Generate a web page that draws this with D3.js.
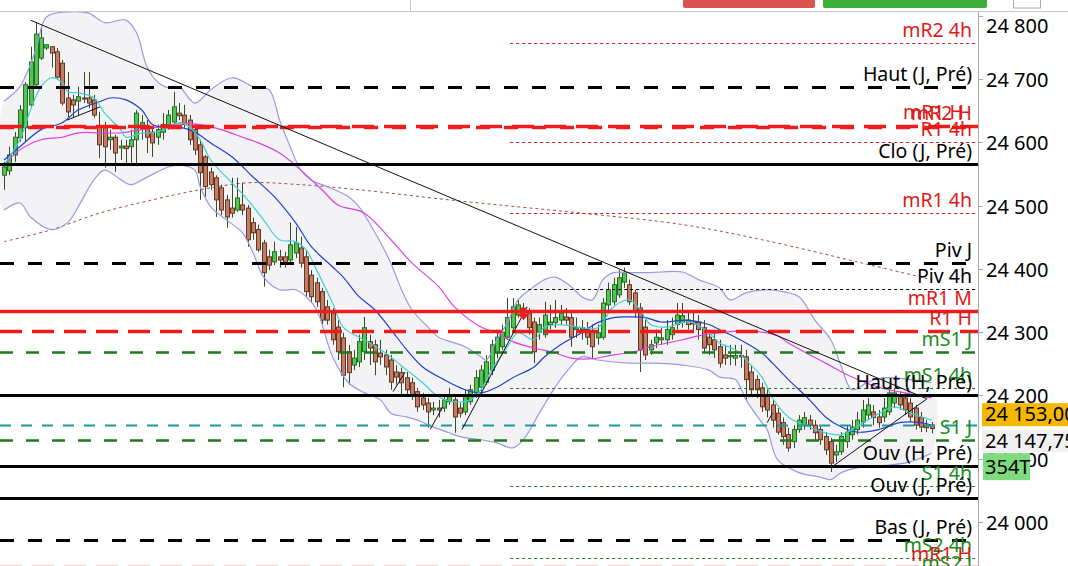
<!DOCTYPE html>
<html><head><meta charset="utf-8">
<script src="https://cdn.jsdelivr.net/npm/d3@7"></script>
<style>html,body{margin:0;padding:0;background:#fff;overflow:hidden}svg{display:block}</style>
</head><body><svg id="c" width="1068" height="566"></svg>
<script>
// ---------- DATA ----------
const openP = [24548,24555,24580,24607,24623,24659,24691,24733,24749,24751,
24743,24725,24670,24667,24665,24670,24670,24667,24624,24623,
24604,24608,24591,24594,24593,24604,24623,24623,24616,24608,
24616,24628,24632,24646,24643,24635,24620,24596,24577,24553,
24544,24528,24509,24496,24493,24501,24496,24473,24462,24441,
24419,24411,24419,24419,24414,24425,24433,24419,24390,24378,
24364,24340,24330,24308,24291,24269,24248,24253,24269,24285,
24280,24267,24264,24256,24237,24236,24228,24220,24206,24196,
24188,24177,24180,24180,24190,24193,24180,24174,24190,24204,
24213,24221,24240,24267,24277,24292,24307,24327,24338,24330,
24316,24300,24296,24312,24315,24319,24324,24323,24304,24307,
24304,24300,24291,24292,24343,24348,24359,24379,24375,24362,
24338,24308,24272,24283,24288,24288,24296,24312,24315,24319,
24316,24316,24307,24292,24288,24277,24264,24261,24259,24263,
24261,24237,24225,24212,24201,24185,24172,24157,24138,24127,
24146,24153,24161,24153,24146,24135,24127,24106,24111,24127,
24138,24146,24158,24169,24174,24166,24166,24174,24188,24198,
24196,24188,24180,24165,24153,24153];
const closeP = [24561,24580,24608,24651,24691,24727,24771,24765,24754,24741,
24703,24662,24648,24659,24672,24669,24662,24643,24596,24593,
24608,24583,24594,24590,24604,24646,24631,24608,24599,24620,
24628,24643,24656,24642,24628,24604,24588,24552,24530,24533,
24509,24493,24482,24488,24512,24493,24446,24457,24430,24394,
24406,24427,24414,24409,24438,24441,24409,24364,24356,24348,
24319,24319,24288,24269,24232,24236,24259,24285,24307,24275,
24253,24261,24245,24221,24229,24220,24209,24201,24182,24185,
24174,24180,24177,24193,24201,24166,24172,24198,24209,24228,
24240,24253,24280,24292,24300,24323,24340,24343,24324,24307,
24269,24312,24327,24316,24323,24330,24319,24292,24307,24304,
24292,24277,24299,24346,24367,24375,24386,24394,24348,24332,
24272,24264,24280,24292,24291,24304,24307,24327,24326,24312,
24313,24304,24275,24280,24272,24251,24259,24263,24263,24261,
24225,24209,24209,24182,24177,24161,24142,24135,24117,24146,
24161,24165,24153,24141,24130,24114,24093,24111,24135,24142,
24150,24161,24177,24185,24165,24157,24180,24204,24204,24185,
24177,24166,24153,24150,24149,24147.75];
const highP = [24569,24593,24616,24659,24695,24751,24790,24781,24755,24752,
24749,24730,24711,24675,24688,24711,24711,24675,24648,24632,
24620,24612,24604,24604,24620,24651,24643,24635,24623,24628,
24646,24651,24680,24662,24659,24643,24628,24604,24580,24560,
24548,24533,24517,24544,24544,24536,24501,24481,24470,24446,
24430,24443,24430,24427,24473,24466,24451,24430,24398,24386,
24370,24351,24338,24319,24299,24280,24272,24296,24324,24296,
24288,24288,24272,24264,24248,24244,24237,24228,24212,24204,
24196,24190,24193,24201,24212,24201,24188,24209,24217,24240,
24248,24264,24288,24304,24312,24354,24354,24351,24346,24338,
24323,24323,24348,24343,24351,24343,24338,24332,24323,24319,
24316,24312,24312,24354,24378,24386,24398,24402,24383,24367,
24346,24319,24288,24304,24307,24319,24323,24346,24346,24335,
24332,24327,24319,24304,24300,24288,24280,24280,24280,24280,
24272,24248,24232,24220,24212,24193,24180,24165,24149,24153,
24169,24174,24169,24161,24153,24142,24133,24122,24142,24153,
24161,24174,24193,24196,24185,24177,24196,24212,24212,24206,
24204,24196,24185,24174,24161,24158];
const lowP = [24525,24548,24569,24601,24601,24654,24688,24730,24746,24718,
24700,24658,24640,24639,24643,24662,24654,24639,24575,24560,
24588,24553,24572,24567,24567,24567,24604,24583,24577,24596,
24604,24620,24628,24635,24623,24596,24580,24509,24514,24525,
24482,24485,24465,24481,24490,24485,24435,24446,24427,24372,
24398,24406,24402,24402,24409,24417,24402,24356,24348,24340,
24312,24312,24280,24256,24213,24217,24240,24245,24256,24248,
24232,24248,24232,24209,24217,24201,24198,24193,24174,24177,
24149,24169,24165,24174,24185,24141,24165,24169,24185,24196,
24206,24217,24232,24259,24272,24288,24304,24323,24319,24296,
24251,24288,24291,24304,24307,24312,24312,24277,24291,24288,
24280,24259,24280,24288,24335,24343,24354,24370,24343,24323,
24237,24256,24264,24275,24280,24280,24288,24304,24307,24304,
24300,24288,24269,24264,24259,24244,24248,24248,24247,24244,
24193,24201,24196,24174,24165,24149,24138,24122,24111,24117,
24141,24146,24146,24130,24122,24106,24079,24095,24106,24117,
24130,24138,24149,24161,24153,24149,24158,24169,24180,24177,
24169,24158,24146,24142,24142,24140];

// indicator readings: [candle index, price]
const bbUpper = [[0,24665],[3,24688],[6,24746],[8,24798],[12,24806],[16,24804],[19,24789],[23,24793],[25,24773],[27,24719],[29,24695],[31,24686],[33,24688],[36,24662],[39,24683],[43,24702],[47,24688],[50,24683],[52,24635],[54,24593],[56,24556],[58,24540],[61,24530],[65,24514],[67,24498],[70,24457],[73,24409],[75,24367],[77,24335],[80,24308],[82,24292],[85,24283],[87,24277],[90,24261],[91,24256],[93,24288],[95,24315],[97,24351],[100,24372],[102,24383],[104,24387],[107,24372],[109,24356],[111,24351],[113,24383],[115,24394],[118,24394],[121,24394],[124,24395],[128,24395],[131,24383],[135,24370],[137,24351],[140,24362],[144,24367],[147,24364],[150,24356],[153,24319],[156,24288],[158,24245],[160,24209],[163,24221],[166,24228],[171,24225],[175,24220]];
const bbLower = [[0,24493],[3,24504],[5,24482],[9,24462],[12,24473],[14,24498],[17,24541],[19,24556],[22,24541],[24,24533],[27,24545],[31,24561],[33,24564],[36,24556],[37,24530],[39,24498],[42,24477],[45,24457],[47,24425],[49,24387],[52,24367],[55,24367],[57,24356],[59,24335],[62,24261],[65,24220],[68,24204],[71,24193],[73,24172],[76,24166],[78,24161],[81,24150],[84,24141],[86,24135],[90,24130],[93,24125],[96,24117],[98,24130],[101,24172],[104,24213],[106,24236],[109,24261],[112,24256],[118,24251],[122,24251],[128,24248],[133,24240],[135,24229],[138,24225],[140,24193],[143,24157],[144,24146],[146,24098],[150,24078],[154,24071],[156,24067],[158,24078],[162,24087],[167,24090],[171,24095],[175,24109]];
const maFast = [[0,24564],[3,24604],[5,24651],[7,24688],[9,24702],[11,24694],[12,24680],[14,24678],[17,24670],[19,24646],[22,24620],[23,24608],[26,24615],[28,24615],[31,24623],[33,24631],[35,24624],[37,24604],[39,24572],[43,24536],[46,24509],[49,24477],[52,24446],[55,24443],[57,24430],[59,24398],[62,24346],[64,24308],[67,24292],[69,24283],[72,24267],[76,24240],[79,24220],[82,24198],[85,24190],[88,24193],[90,24209],[92,24240],[95,24277],[97,24299],[100,24288],[102,24308],[105,24312],[109,24307],[112,24307],[115,24340],[118,24351],[120,24335],[122,24312],[125,24308],[128,24315],[130,24315],[133,24299],[135,24283],[138,24272],[140,24256],[143,24229],[145,24196],[148,24166],[152,24150],[155,24141],[158,24138],[160,24146],[164,24166],[168,24182],[171,24172],[175,24161]];
const maMid = [[0,24572],[3,24593],[7,24620],[11,24631],[14,24651],[18,24664],[20,24670],[23,24667],[26,24651],[28,24628],[31,24623],[33,24624],[36,24616],[39,24599],[43,24577],[47,24545],[51,24514],[55,24473],[58,24435],[62,24403],[64,24387],[67,24356],[70,24335],[73,24304],[76,24272],[79,24245],[83,24225],[87,24209],[90,24204],[93,24213],[96,24228],[100,24245],[102,24261],[105,24280],[109,24299],[112,24315],[115,24323],[118,24324],[121,24323],[124,24316],[129,24319],[133,24312],[135,24304],[138,24292],[140,24283],[143,24267],[145,24251],[148,24225],[152,24193],[155,24166],[158,24150],[161,24142],[165,24146],[169,24157],[173,24157],[175,24153]];
const maSlow = [[0,24564],[3,24588],[7,24604],[11,24608],[14,24615],[18,24615],[22,24615],[26,24620],[29,24624],[33,24629],[37,24628],[41,24620],[45,24608],[48,24599],[52,24583],[56,24556],[60,24525],[63,24501],[68,24488],[73,24446],[77,24409],[82,24372],[85,24340],[90,24308],[93,24299],[96,24285],[100,24275],[104,24267],[107,24259],[111,24258],[115,24264],[119,24269],[122,24277],[128,24288],[131,24294],[135,24299],[139,24302],[143,24300],[146,24294],[148,24283],[155,24251],[160,24229],[165,24213],[170,24204],[175,24196]];
const maLong = [[0,24443],[9,24462],[18,24488],[28,24509],[37,24525],[46,24536],[56,24533],[67,24525],[84,24509],[97,24498],[109,24488],[128,24470],[143,24446],[162,24409],[175,24383]];

const trendLines = [
  [[5,24793],[174,24195]],
  [[156.2,24087],[174.2,24195]],
  [[11.9,24635],[18.1,24656]],
  [[73.4,24206],[75.7,24237]],
  [[80.4,24146],[82.8,24182]],
  [[86.4,24146],[98.7,24340]],
  [[144,24157],[145,24172]]
];

const yTicks = [24000,24100,24200,24300,24400,24500,24600,24700,24800];

const levelNames  = ["mR2 4h","Haut (J, Pré)","mR2 H","mR1 H","R1 4h","Clo (J, Pré)","mR1 4h","Piv J","Piv 4h","mR1 M","R1 H","mS1 J","mS1 4h","Haut (H, Pré)","","S1 J","Ouv (H, Pré)","S1 4h","Ouv (J, Pré)","Bas (J, Pré)","mS2 4h","mR1 H","mS2 J"];
const levelPrices = [24757,24688,24626,24624,24601,24566,24488,24409,24368,24334,24302,24269,24212,24201,24153,24130,24089,24057,24038,23972,23943,23929,23915];
const levelKinds  = ["redDot","blackDash","redDash","redDash2","redDot","blackSolid","redDot","blackDash","blackDot","redSolid","redDash","greenDash","greenDot","blackSolid","tealDash","greenDash","blackSolid","greenDot","blackSolid","blackDash","greenDot","redDash","greenDash"];
const levelStart  = [95.5,0,0,0,95.5,0,95.5,0,95.5,0,0,0,95.5,0,0,0,0,95.5,0,0,95.5,0,0];

const lastPrice = "24 153,00", bidPrice = "24 147,75", volLabel = "354T";

// ---------- DRAW ----------
const svg = d3.select("#c");
const W = 1068, H = 566, plotR = 978, plotT = 12;
const FONT = "'Noto Sans', 'Open Sans', sans-serif";
const x = d3.scaleLinear().domain([0,175]).range([4,931.5]);
const y = d3.scaleLinear().domain([24000,24700]).range([522,79]);

svg.append("rect").attr("width",W).attr("height",H).attr("fill","#fff");
svg.append("defs").append("clipPath").attr("id","plot").append("rect")
  .attr("x",0).attr("y",plotT).attr("width",plotR).attr("height",H-plotT);
const g = svg.append("g").attr("clip-path","url(#plot)");

const curve = d3.curveCatmullRom.alpha(0.5);
const line = d3.line().x(d=>x(d[0])).y(d=>y(d[1])).curve(curve);

// bollinger fill
const poly = bbUpper.concat(bbLower.slice().reverse());
g.append("path").attr("d", d3.line().x(d=>x(d[0])).y(d=>y(d[1])).curve(d3.curveCatmullRomClosed.alpha(0.5))(poly))
  .attr("fill","#f3f3f5").attr("stroke","none");
// long MA dotted
g.append("path").attr("d",line(maLong)).attr("fill","none").attr("stroke","#a0504a").attr("stroke-width",1).attr("stroke-dasharray","3,3");

// candles
const N = openP.length;
const idx = d3.range(N);
const cg = g.append("g");
cg.selectAll("line.w").data(idx).join("line")
  .attr("x1",i=>Math.round(x(i))+0.5).attr("x2",i=>Math.round(x(i))+0.5)
  .attr("y1",i=>y(highP[i])).attr("y2",i=>y(lowP[i]))
  .attr("stroke","#3a4a22").attr("stroke-width",1);
cg.selectAll("rect.b").data(idx).join("rect")
  .attr("x",i=>Math.round(x(i))-1.5).attr("width",4)
  .attr("y",i=>y(Math.max(openP[i],closeP[i])))
  .attr("height",i=>Math.max(1,Math.abs(y(openP[i])-y(closeP[i]))))
  .attr("fill",i=>closeP[i]>=openP[i]?"#4cc84c":"#c97a60")
  .attr("stroke",i=>closeP[i]>=openP[i]?"#2c6a2c":"#5c3a28").attr("stroke-width",1);

// indicator lines
g.append("path").attr("d",line(bbUpper)).attr("fill","none").attr("stroke","#9a9ae0").attr("stroke-width",1.2);
g.append("path").attr("d",line(bbLower)).attr("fill","none").attr("stroke","#9a9ae0").attr("stroke-width",1.2);
g.append("path").attr("d",line(maSlow)).attr("fill","none").attr("stroke","#e040e0").attr("stroke-width",1.2);
g.append("path").attr("d",line(maMid)).attr("fill","none").attr("stroke","#2040d0").attr("stroke-width",1.2);
g.append("path").attr("d",line(maFast)).attr("fill","none").attr("stroke","#40d0d0").attr("stroke-width",1.2);

// levels
const styles = {
  blackDash:{c:"#000",w:3,d:"14,14"},
  blackSolid:{c:"#000",w:3,d:null},
  blackDot:{c:"#000",w:1,d:"3,3"},
  redSolid:{c:"#ee1c1c",w:3.5,d:null},
  redDash:{c:"#ee1c1c",w:3.5,d:"22,10"},
  redDash2:{c:"#ee1c1c",w:3.5,d:"14,14"},
  redDot:{c:"#c82020",w:1,d:"3,3"},
  greenDash:{c:"#1e7a1e",w:2.5,d:"13,13"},
  greenDot:{c:"#1e7a1e",w:1,d:"3,3"},
  tealDash:{c:"#189aa0",w:2,d:"11,10"}
};
const labelColor = k => k.startsWith("red")?"#e01818":(k.startsWith("green")?"#1c8a1c":"#000");
const lg = svg.append("g").attr("clip-path","url(#plot)");
levelPrices.forEach((p,i)=>{
  const s = styles[levelKinds[i]];
  const yy = Math.round(y(p))+0.5;
  const ln = lg.append("line").attr("x1",x(levelStart[i])-4*(levelStart[i]===0)).attr("x2",plotR).attr("y1",yy).attr("y2",yy)
    .attr("stroke",s.c).attr("stroke-width",s.w);
  if (s.d) ln.attr("stroke-dasharray",s.d);
});
// trendlines
trendLines.forEach(t=>{
  lg.append("line").attr("x1",x(t[0][0])).attr("y1",y(t[0][1])).attr("x2",x(t[1][0])).attr("y2",y(t[1][1]))
    .attr("stroke","#111").attr("stroke-width",1);
});
// red arrow marker
lg.append("path").attr("d",`M${x(98)-3},${y(24338)} l6,0 l0,6 l3,0 l-6,6 l-6,-6 l3,0 z`).attr("fill","#ee2020");

// level labels
levelPrices.forEach((p,i)=>{
  if(!levelNames[i]) return;
  lg.append("text").attr("x", levelKinds[i]==="redDash2"?964:972).attr("y",y(p)-6 - (levelKinds[i]==="redDash2"?2:0))
    .attr("text-anchor","end").attr("font-family",FONT).attr("font-size",19.5)
    .attr("fill",labelColor(levelKinds[i])).text(levelNames[i]);
});

// header
svg.append("line").attr("x1",0).attr("x2",W).attr("y1",11.5).attr("y2",11.5).attr("stroke","#c8c8c8");
svg.append("line").attr("x1",410.5).attr("x2",410.5).attr("y1",0).attr("y2",11).attr("stroke","#c8c8c8");
svg.append("rect").attr("x",683).attr("y",-4).attr("width",132).attr("height",12).attr("rx",2).attr("fill","#db5252");
svg.append("rect").attr("x",823).attr("y",-4).attr("width",164).attr("height",12).attr("rx",2).attr("fill","#3cae3c");
svg.append("rect").attr("x",1013.5).attr("y",-4).attr("width",27).attr("height",12).attr("fill","#fff").attr("stroke","#aaa");

// axis
svg.append("line").attr("x1",plotR+0.5).attr("x2",plotR+0.5).attr("y1",plotT).attr("y2",H).attr("stroke","#a8a8a8");
yTicks.forEach(v=>{
  const yy = Math.round(y(v))+0.5;
  svg.append("line").attr("x1",plotR).attr("x2",plotR+5).attr("y1",yy).attr("y2",yy).attr("stroke","#a8a8a8");
  svg.append("text").attr("x",986).attr("y",Math.max(yy,26)+7).attr("font-family",FONT)
    .attr("font-size",20).attr("fill","#000").text(d3.format(",")(v).replace(",", " "));
});
// price boxes
const yl = y(24153);
svg.append("rect").attr("x",982).attr("y",yl-22).attr("width",90).attr("height",23).attr("fill","#f5b800");
svg.append("text").attr("x",985).attr("y",yl-4).attr("font-family",FONT).attr("font-size",20).text(lastPrice);
svg.append("rect").attr("x",982).attr("y",yl+5).attr("width",90).attr("height",22).attr("fill","#f0f0f0");
svg.append("text").attr("x",985).attr("y",yl+23).attr("font-family",FONT).attr("font-size",20).text(bidPrice);
svg.append("rect").attr("x",983).attr("y",yl+28).attr("width",47).attr("height",27).attr("fill","#7edc7e");
svg.append("text").attr("x",985).attr("y",yl+49).attr("font-family",FONT).attr("font-size",20).text(volLabel);
</script></body></html>
